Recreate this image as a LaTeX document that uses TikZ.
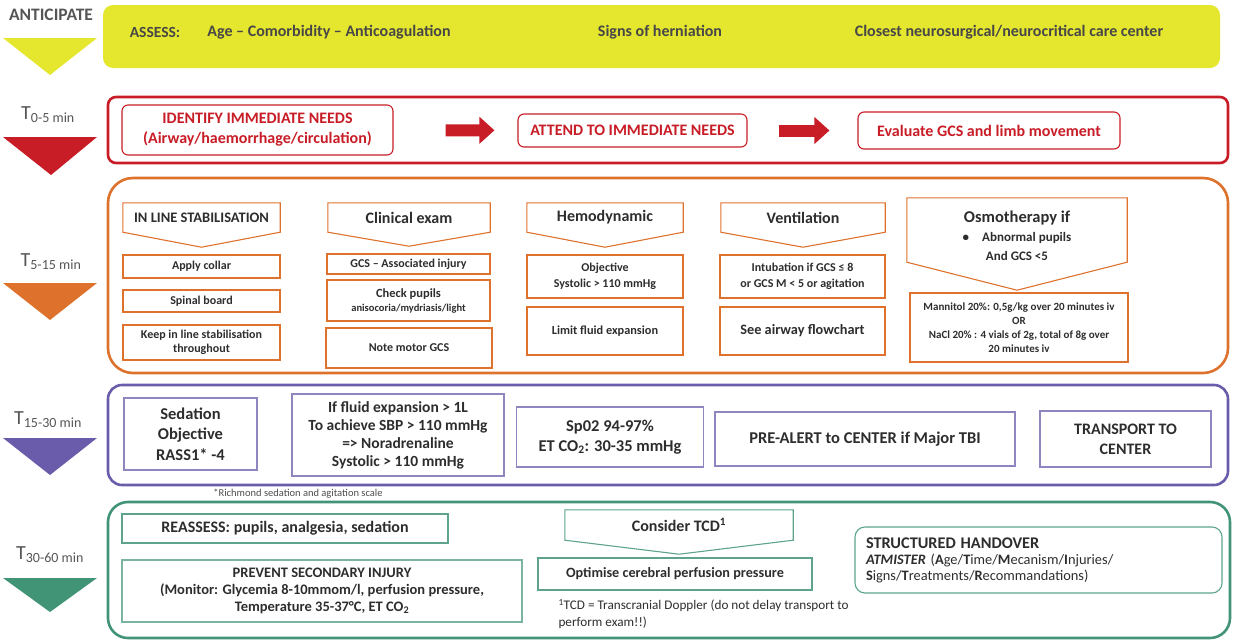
\documentclass[tikz,border=0pt]{standalone}
\usepackage{fontspec}
\setmainfont{Carlito}
\usetikzlibrary{calc}
\usetikzlibrary{arrows.meta}
\definecolor{ylw}{RGB}{229,230,46}
\definecolor{rd}{RGB}{200,28,38}
\definecolor{org}{RGB}{222,114,44}
\definecolor{prp}{RGB}{106,92,170}
\definecolor{grn}{RGB}{66,148,118}
\definecolor{ink}{RGB}{45,45,45}
\definecolor{lbl}{RGB}{85,85,85}
\newcommand{\fs}[2]{\fontsize{#1}{#2}\selectfont}

\begin{document}
\begin{tikzpicture}[
  x=1pt, y=-1pt,
  font=\bfseries, text=ink,
  stage/.style={text=lbl, font=\fs{20}{22}\mdseries},
  sz/.style 2 args={minimum width=#1pt, minimum height=#2pt, inner sep=0pt, align=center},
  band/.style={draw=#1, line width=2.6pt},
  cell/.style={draw=#1, line width=1.1pt},
  blk/.style 2 args={draw=rd, line width=12pt, shorten <=#1pt, shorten >=#2pt,
                     -{Triangle[length=15pt, width=26pt]}}
]
\useasboundingbox (0,0) rectangle (1233,640);
% anticipate
\node[stage, font=\fs{17.5}{20}\bfseries] (ant) at (51,15) {ANTICIPATE};
\fill[ylw] (3,38) -- (97,38) -- (50,75) -- cycle;
\node[fill=ylw, rounded corners=10pt, sz={1117}{63}] (asb) at (661.5,36.5) {};
\node[font=\fs{15.5}{18}\bfseries, text=black!72] (as0) at (155,32) {ASSESS:};
\node[font=\fs{16}{18}\bfseries, text=black!72] (as1) at (329,32) {Age -- Comorbidity -- Anticoagulation};
\node[font=\fs{16}{18}\bfseries, text=black!72] (as2) at (660,32) {Signs of herniation};
\node[font=\fs{16}{18}\bfseries, text=black!72] (as3) at (1009,32) {Closest neurosurgical/neurocritical care center};
% T 0-5
\node[stage] (t1) at (48,115) {T\textsubscript{0-5 min}};
\fill[rd] (3,137) -- (97,137) -- (51,175) -- cycle;
\node[band=rd, rounded corners=8pt, sz={1120}{66}] (r0) at (668,130) {};
\node[cell=rd, rounded corners=6pt, sz={271}{50}, text=rd, font=\fs{16}{20}\bfseries] (r1) at (257.5,130)
  {IDENTIFY IMMEDIATE NEEDS\\(Airway/haemorrhage/circulation)};
\node[cell=rd, rounded corners=6pt, sz={229}{33}, text=rd, font=\fs{16}{18}\bfseries] (r2) at (632.5,130.5)
  {ATTEND TO IMMEDIATE NEEDS};
\node[cell=rd, rounded corners=6pt, sz={262}{37}, text=rd, font=\fs{16}{18}\bfseries] (r3) at (989,130.5)
  {Evaluate GCS and limb movement};
\draw[blk={52}{23}] (r1) -- (r2);
\draw[blk={31}{28}] (r2) -- (r3);
% T 5-15
\node[stage] (t2) at (51,262) {T\textsubscript{5-15 min}};
\fill[org] (3,283) -- (97,283) -- (50,320) -- cycle;
\node[band=org, rounded corners=25pt, sz={1120}{195}] (o0) at (668,275.5) {};
\node[sz={157}{29}, font=\fs{14.5}{16}\bfseries] (hd1) at (201.5,217.5) {IN LINE STABILISATION};
\node[sz={162}{29}, font=\fs{16}{18}\bfseries] (hd2) at (409,217.5) {Clinical exam};
\node[sz={156}{29}, font=\fs{16}{18}\bfseries] (hd3) at (605,217.5) {Hemodynamic};
\node[sz={164}{29}, font=\fs{16}{18}\bfseries] (hd4) at (803,217.5) {Ventilation};
\node[sz={220}{64}, font=\fs{16.5}{19}\bfseries] (hd5) at (1017,230)
  {\rule{0pt}{24pt}Osmotherapy if\\{\fs{13}{17}\textbullet\quad Abnormal pupils}\\{\fs{13}{16}And GCS <5}};
\draw[cell=org] (hd1.north west) -- (hd1.north east) -- (hd1.south east) -- ($(hd1.south)+(0,15)$) -- (hd1.south west) -- cycle;
\draw[cell=org] (hd2.north west) -- (hd2.north east) -- (hd2.south east) -- ($(hd2.south)+(0,14)$) -- (hd2.south west) -- cycle;
\draw[cell=org] (hd3.north west) -- (hd3.north east) -- (hd3.south east) -- ($(hd3.south)+(0,15)$) -- (hd3.south west) -- cycle;
\draw[cell=org] (hd4.north west) -- (hd4.north east) -- (hd4.south east) -- ($(hd4.south)+(0,15)$) -- (hd4.south west) -- cycle;
\draw[cell=org] (hd5.north west) -- (hd5.north east) -- (hd5.south east) -- ($(hd5.south)+(0,28)$) -- (hd5.south west) -- cycle;
\node[cell=org, sz={157}{23}, font=\fs{12}{14}\bfseries] (b11) at (201.5,266.5) {Apply collar};
\node[cell=org, sz={157}{22}, font=\fs{12}{14}\bfseries] (b12) at (201.5,301) {Spinal board};
\node[cell=org, sz={157}{35}, font=\fs{12}{14}\bfseries] (b13) at (201.5,342.5) {Keep in line stabilisation\\throughout};
\node[cell=org, sz={163}{20}, font=\fs{12}{14}\bfseries] (b21) at (408.5,264) {GCS -- Associated injury};
\node[cell=org, sz={163}{41}, font=\fs{12.5}{14}\bfseries] (b22) at (408.5,300.5)
  {Check pupils\\{\fs{10.5}{13}anisocoria/mydriasis/light}};
\node[cell=org, sz={166}{40}, font=\fs{12}{14}\bfseries] (b23) at (409,348) {Note motor GCS};
\node[cell=org, sz={156}{43}, font=\fs{12}{16}\bfseries] (b31) at (605,276.5) {Objective\\Systolic > 110 mmHg};
\node[cell=org, sz={156}{48}, font=\fs{12.3}{14}\bfseries] (b32) at (605,331) {Limit fluid expansion};
\node[cell=org, sz={165}{43}, font=\fs{12}{16}\bfseries] (b41) at (802.5,276.5) {Intubation if GCS ≤ 8\\or GCS M < 5 or agitation};
\node[cell=org, sz={165}{48}, font=\fs{14.3}{16}\bfseries] (b42) at (802.5,331) {See airway flowchart};
\node[cell=org, sz={218}{69}, font=\fs{11}{14}\bfseries] (b51) at (1019,327.5)
  {Mannitol 20\%: 0,5g/kg over 20 minutes iv\\OR\\NaCl 20\% : 4 vials of 2g, total of 8g over\\20 minutes iv};
% T 15-30
\node[stage] (t3) at (48,420) {T\textsubscript{15-30 min}};
\fill[prp] (3,438) -- (97,438) -- (50,475) -- cycle;
\node[band=prp, rounded corners=14pt, sz={1120}{100}] (p0) at (668,435) {};
\node[cell=prp!75, sz={133}{72}, font=\fs{16.5}{20.5}\bfseries] (p1) at (190.5,434) {Sedation\\Objective\\RASS1* -4};
\node[cell=prp!75, sz={212}{82}, font=\fs{15.5}{18}\bfseries] (p2) at (398,435)
  {If fluid expansion > 1L\\To achieve SBP > 110 mmHg\\=> Noradrenaline\\Systolic > 110 mmHg};
\node[cell=prp!75, sz={187}{60}, font=\fs{16.5}{20}\bfseries] (p3) at (610,437)
  {Sp02 94-97\%\\ET CO\textsubscript{2}: 30-35 mmHg};
\node[cell=prp!75, sz={300}{54}, font=\fs{16.5}{19}\bfseries] (p4) at (865,439) {PRE-ALERT to CENTER if Major TBI};
\node[cell=prp!75, sz={171}{56}, font=\fs{16}{20}\bfseries] (p5) at (1125.5,439) {TRANSPORT TO\\CENTER};
\node[font=\fs{10.5}{12}\mdseries, text=black!70] (fn1) at (298,494) {*Richmond sedation and agitation scale};
% T 30-60
\node[stage] (t4) at (50,555) {T\textsubscript{30-60 min}};
\fill[grn] (3,578) -- (97,578) -- (50,612) -- cycle;
\node[band=grn, rounded corners=20pt, sz={1122}{136}] (g0) at (669,570) {};
\node[cell=grn!85, sz={326}{29}, font=\fs{16}{18}\bfseries] (g1) at (285,528.5) {REASSESS: pupils, analgesia, sedation};
\node[cell=grn!70, sz={400}{62}, font=\fs{14.5}{17}\bfseries] (g2) at (322,591)
  {PREVENT SECONDARY INJURY\\(Monitor: Glycemia 8-10mmom/l, perfusion pressure,\\Temperature 35-37°C, ET CO\textsubscript{2}};
\node[sz={228}{30}, font=\fs{16}{18}\bfseries] (tcd) at (679,525) {Consider TCD\textsuperscript{1}};
\draw[cell=grn!85] (tcd.north west) -- (tcd.north east) -- (tcd.south east) -- ($(tcd.south)+(0,14)$) -- (tcd.south west) -- cycle;
\node[cell=grn!85, sz={274}{32}, font=\fs{14.2}{16}\bfseries] (g3) at (675,574) {Optimise cerebral perfusion pressure};
\node[anchor=west, align=left, font=\fs{13.2}{17}\mdseries] (fn2) at (555,614)
  {\textsuperscript{1}TCD = Transcranial Doppler (do not delay transport to\\perform exam!!)};
\node[cell=grn!85, rounded corners=10pt, sz={367}{66}, text width=345pt, align=left, font=\fs{14.4}{16}\mdseries] (g4) at (1038.5,560)
  {{\fs{16.3}{20}\bfseries STRUCTURED HANDOVER}\\\textbf{\textit{ATMISTER}} (\textbf{A}ge/\textbf{T}ime/\textbf{M}ecanism/\textbf{I}njuries/\\\textbf{S}igns/\textbf{T}reatments/\textbf{R}ecommandations)};
\end{tikzpicture}
\end{document}
